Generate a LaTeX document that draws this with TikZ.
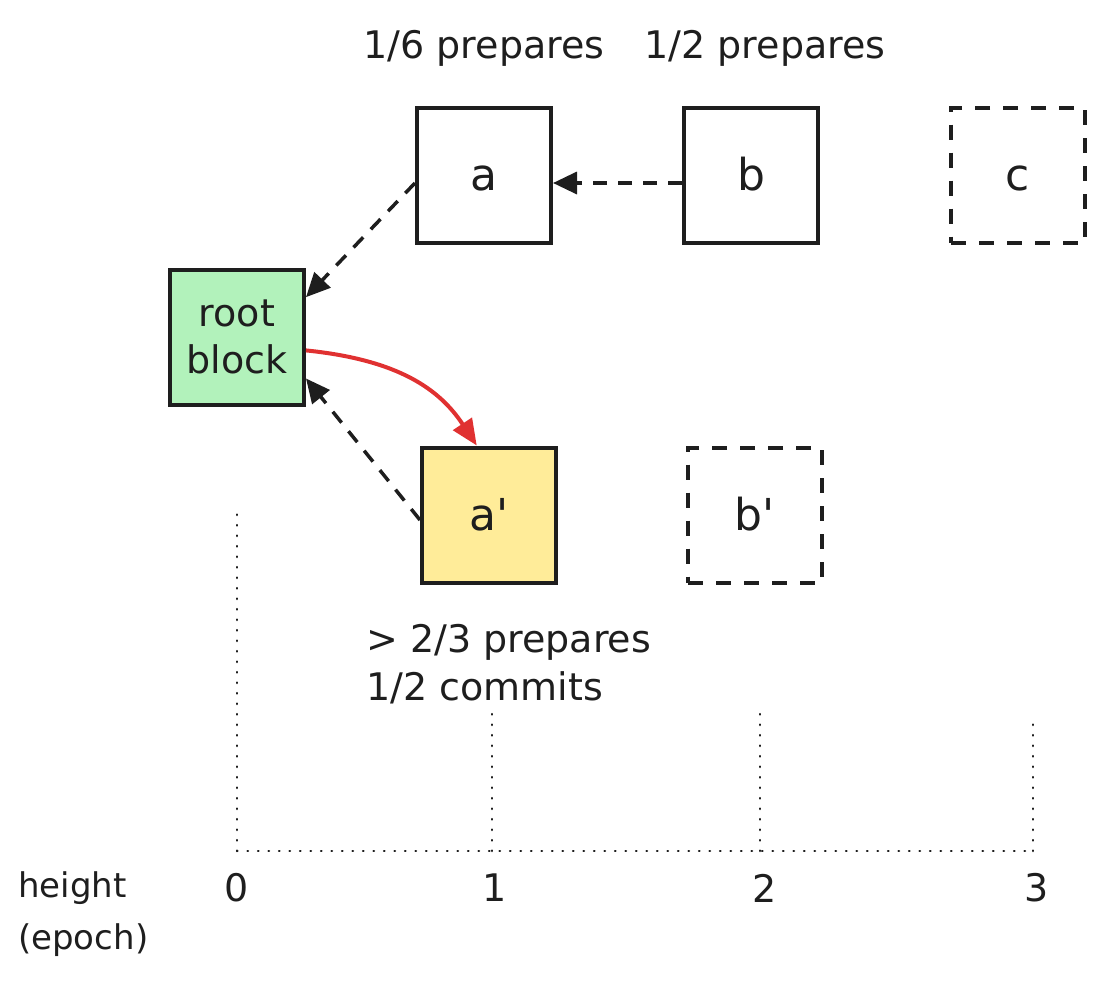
\documentclass[tikz,border=0pt]{standalone}
\usepackage{fontspec}
\setmainfont{DejaVu Sans}
\usetikzlibrary{arrows.meta,calc}
\definecolor{ink}{HTML}{1E1E1E}
\definecolor{rootgreen}{HTML}{B2F2BB}
\definecolor{ayellow}{HTML}{FFEC99}
\definecolor{redarrow}{HTML}{E03131}
\tikzset{
  blk/.style={draw=ink, line width=4pt, minimum width=134pt, minimum height=135pt, inner sep=0pt, font=\fontsize{44}{48}\selectfont, text=ink},
  single/.style={text height=30pt, text depth=0pt},
  ghost/.style={blk, dash pattern=on 15pt off 13pt},
  lbl/.style={font=\fontsize{38}{48}\selectfont, text=ink, inner sep=0pt},
  link/.style={draw=ink, line width=3.5pt, dash pattern=on 14pt off 11pt, -{Triangle[length=24pt,width=22pt]}},
  redlink/.style={draw=redarrow, line width=4pt, -{Triangle[length=26pt,width=22pt]}},
  grid/.style={draw=ink, line width=2.5pt, line cap=round, dash pattern=on 0.5pt off 10pt}
}
\begin{document}
\begin{tikzpicture}[x=1pt,y=-1pt]
\useasboundingbox (0,0) rectangle (1104,986);
% blocks
\node[blk, single] (a) at (484,175) {a};
\node[blk, single] (b) at (751,175) {b};
\node[ghost, single] (c) at (1018,175) {c};
\node[blk, fill=rootgreen, align=center, font=\fontsize{38}{47}\selectfont] (root) at (237,337) {root\\block};
\node[blk, single, fill=ayellow] (ap) at (489,515) {a\textquotesingle};
\node[ghost, single] (bp) at (755,515) {b\textquotesingle};
% labels
\node[lbl] (l1) at (484,48) {1/6 prepares};
\node[lbl] (l2) at (765,48) {1/2 prepares};
\node[lbl, anchor=west, align=left] (l3) at (366,664) {> 2/3 prepares\\1/2 commits};
% connectors
\draw[link] ([yshift=-8pt]b.west) -- ([yshift=-8pt]a.east);
\draw[link] ([yshift=-8pt]a.west) -- (root.30);
\draw[link] ([yshift=-5pt]ap.west) -- (root.-31);
\draw[redlink] (root.-11) .. controls (400,360) and (440,390) .. (ap.100);
% axis
\coordinate (o0) at (237,851);
\coordinate (o1) at (492,851);
\coordinate (o2) at (760,851);
\coordinate (o3) at (1033,851);
\draw[grid] (o0) -- (o3);
\draw[grid] (o0) -- (237,505);
\draw[grid] (o1) -- (492,712);
\draw[grid] (o2) -- (760,712);
\draw[grid] (o3) -- (1033,715);
\node[lbl] (t0) at (237,888) {0};
\node[lbl] (t1) at (495,888) {1};
\node[lbl] (t2) at (765,888) {2};
\node[lbl] (t3) at (1037,888) {3};
\node[lbl, align=left, anchor=west, font=\fontsize{34}{52}\selectfont] (hl) at (18,914) {height\\(epoch)};
\end{tikzpicture}
\end{document}
